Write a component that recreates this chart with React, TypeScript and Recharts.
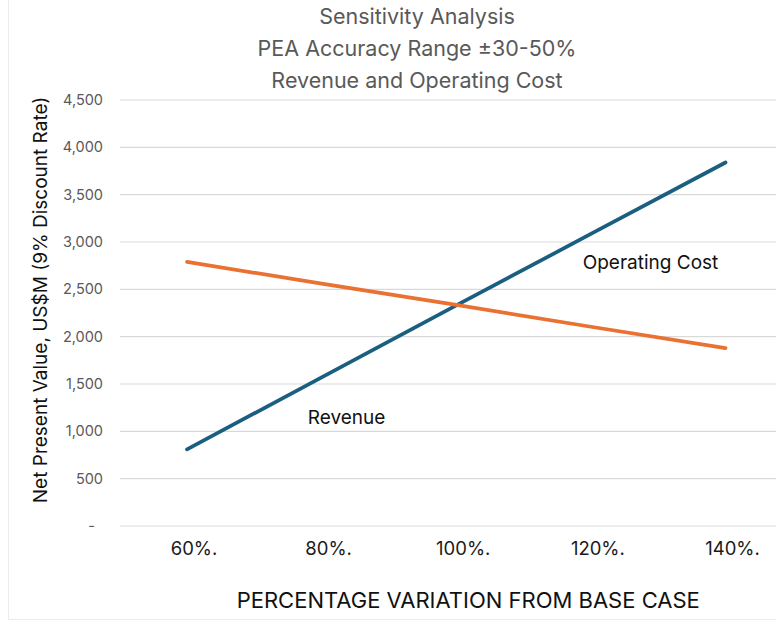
import React from "react";
import { LineChart, Line, XAxis, YAxis, CartesianGrid, ReferenceDot } from "recharts";

const categories = ["60%.", "80%.", "100%.", "120%.", "140%."];
const revenue = [810, 1570, 2330, 3085, 3840];
const operatingCost = [2790, 2560, 2335, 2105, 1880];
const yTicks = [0, 500, 1000, 1500, 2000, 2500, 3000, 3500, 4000, 4500];
const titleLines = ["Sensitivity Analysis", "PEA Accuracy Range ±30-50%", "Revenue and Operating Cost"];

const FONT = "Inter, 'Open Sans', sans-serif";
const BLUE = "#1B5F80";
const ORANGE = "#E97132";

const data = categories.map((c, i) => ({
  category: c,
  revenue: revenue[i],
  operatingCost: operatingCost[i],
}));

const formatY = (v: number) => (v === 0 ? "-\u00A0\u00A0" : v.toLocaleString("en-US"));

export default function App() {
  return (
    <div style={{ position: "absolute", left: 0, top: 0, width: 776, height: 623, overflow: "hidden", background: "#fff", fontFamily: FONT }}>
      <div style={{ position: "absolute", left: 8, top: -10, width: 900, height: 628, border: "1px solid #ececec" }} />
      <div style={{ position: "absolute", left: 167, top: 0, width: 500, textAlign: "center", color: "#595959", fontSize: 21.5, lineHeight: "32px" }}>
        {titleLines.map((t) => (
          <div key={t}>{t}</div>
        ))}
      </div>
      <LineChart
        width={800}
        height={623}
        data={data}
        margin={{ top: 100, right: 7.5, bottom: 17, left: 0 }}
        style={{ position: "absolute", left: 0, top: 0 }}
      >
        <CartesianGrid vertical={false} stroke="#d9d9d9" strokeWidth={1.2} />
        <XAxis
          dataKey="category"
          padding={{ left: 67, right: 67 }}
          axisLine={false}
          tickLine={false}
          tickSize={0}
          tickMargin={16}
          height={80}
          tick={{ fill: "#1a1a1a", fontSize: 18.5, fontFamily: FONT, dx: 7 }}
          label={({ viewBox }: any) => (
            <text
              x={viewBox.x + viewBox.width / 2 + 12}
              y={viewBox.y + 82}
              textAnchor="middle"
              fill="#111"
              fontSize={22}
              fontFamily={FONT}
            >
              PERCENTAGE VARIATION FROM BASE CASE
            </text>
          )}
        />
        <YAxis
          domain={[0, 4500]}
          ticks={yTicks}
          width={120}
          axisLine={false}
          tickLine={false}
          tickSize={6}
          tickMargin={11}
          tickFormatter={formatY}
          tick={{ fill: "#595959", fontSize: 14.5, fontFamily: FONT }}
          label={({ viewBox }: any) => {
            const x = viewBox.x + 47;
            const y = viewBox.y + viewBox.height / 2 - 13;
            return (
              <text
                x={x}
                y={y}
                transform={`rotate(-90, ${x}, ${y})`}
                textAnchor="middle"
                fill="#111"
                fontSize={19}
                fontFamily={FONT}
              >
                Net Present Value, US$M (9% Discount Rate)
              </text>
            );
          }}
        />
        <Line
          dataKey="revenue"
          stroke={BLUE}
          strokeWidth={3.75}
          strokeLinecap="round"
          dot={false}
          isAnimationActive={false}
        />
        <Line
          dataKey="operatingCost"
          stroke={ORANGE}
          strokeWidth={3.75}
          strokeLinecap="round"
          dot={false}
          isAnimationActive={false}
        />
        <ReferenceDot
          x="80%."
          y={1150}
          r={0}
          fill="none"
          stroke="none"
          label={({ viewBox }: any) => (
            <text x={viewBox.x + 25} y={viewBox.y + 7} textAnchor="middle" fill="#111" fontSize={19} fontFamily={FONT}>
              Revenue
            </text>
          )}
        />
        <ReferenceDot
          x="140%."
          y={2790}
          r={0}
          fill="none"
          stroke="none"
          label={({ viewBox }: any) => (
            <text x={viewBox.x - 75} y={viewBox.y + 7} textAnchor="middle" fill="#111" fontSize={19} fontFamily={FONT}>
              Operating Cost
            </text>
          )}
        />
      </LineChart>
    </div>
  );
}
